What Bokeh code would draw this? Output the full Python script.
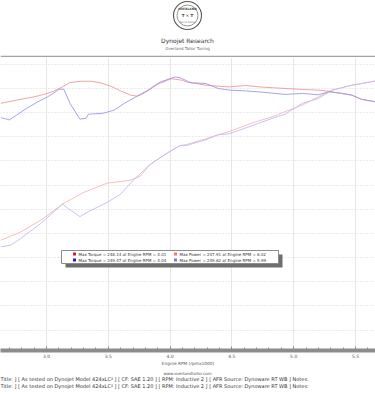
from bokeh.plotting import figure
from bokeh.models import (Label, BoxAnnotation, Span, SingleIntervalTicker, Range1d,
                          NumeralTickFormatter)
from bokeh.core.properties import value
from bokeh.layouts import column
from bokeh.embed import file_html
from bokeh.resources import INLINE

# ---------------- data ----------------
rpm_tq_run1 = [2.63, 2.76, 2.90, 2.98, 3.06, 3.14, 3.19, 3.28, 3.36, 3.44, 3.52, 3.60,
               3.68, 3.73, 3.76, 3.82, 3.90, 3.98, 4.01, 4.10, 4.13, 4.21, 4.29, 4.39,
               4.48, 4.61, 4.72, 4.93, 5.07, 5.20, 5.28, 5.39, 5.47, 5.55, 5.66]
tq_run1 = [227.7, 230.4, 233.1, 235.1, 237.8, 241.9, 244.9, 246.0, 246.0, 244.6, 241.9, 238.0,
           234.5, 233.7, 234.5, 238.0, 243.5, 246.8, 248.1, 246.8, 245.5, 244.1, 242.7, 241.9,
           241.3, 242.5, 241.3, 240.0, 239.2, 238.6, 237.8, 235.9, 234.5, 231.0, 229.0]

rpm_tq_run2 = [2.63, 2.70, 2.76, 2.84, 2.93, 3.01, 3.07, 3.10, 3.14, 3.19, 3.27, 3.32,
               3.34, 3.46, 3.55, 3.63, 3.71, 3.82, 3.92, 4.04, 4.08, 4.17, 4.21, 4.29,
               4.39, 4.48, 4.61, 4.72, 4.93, 5.07, 5.20, 5.28, 5.39, 5.47, 5.55, 5.66]
tq_run2 = [215.9, 214.0, 218.1, 223.6, 229.0, 233.1, 237.0, 239.4, 239.4, 227.7, 214.6, 215.4,
           218.7, 219.5, 222.2, 227.7, 232.3, 238.6, 245.4, 249.5, 249.0, 244.6, 244.6, 244.1,
           240.0, 238.6, 238.0, 237.2, 235.1, 235.9, 234.8, 237.2, 235.9, 234.5, 231.0, 229.0]

rpm_pw_run1 = [2.63, 2.79, 2.95, 3.13, 3.30, 3.49, 3.68, 3.76, 3.84, 3.98, 4.08, 4.13,
               4.29, 4.39, 4.48, 4.66, 4.83, 4.93, 5.07, 5.20, 5.31, 5.47, 5.55, 5.66]
pw_run1 = [114.3, 121.1, 130.7, 144.3, 153.9, 161.6, 164.0, 167.5, 177.2, 186.7, 192.7, 193.5,
           198.4, 201.7, 204.4, 211.3, 216.7, 220.8, 226.3, 233.1, 238.6, 242.7, 244.1, 246.2]

rpm_pw_run2 = [2.63, 2.71, 2.79, 2.95, 3.13, 3.18, 3.27, 3.34, 3.49, 3.60, 3.71, 3.84,
               3.98, 4.08, 4.13, 4.29, 4.39, 4.48, 4.66, 4.83, 4.93, 5.07, 5.20, 5.31,
               5.47, 5.55, 5.66]
pw_run2 = [108.9, 110.2, 115.7, 128.0, 144.3, 140.2, 133.9, 138.0, 145.7, 152.5, 164.8, 177.2,
           186.7, 192.7, 192.7, 197.6, 201.7, 202.5, 209.1, 215.4, 218.7, 227.7, 231.8, 238.6,
           242.7, 244.1, 246.2]

legend_rows = [
    ["Max Torque = 248.14 at Engine RPM = 4.01", "Max Power = 247.91 at Engine RPM = 6.02"],
    ["Max Torque = 249.47 at Engine RPM = 4.04", "Max Power = 249.62 at Engine RPM = 5.99"],
]
header_title = "Dynojet Research"
header_sub = "Overland Tailor Tuning"
logo_top = "OVERLAND"
logo_mid = "T \u2715 T"
logo_bot = "TAILOR TUNING"
x_label = "Engine RPM (rpmx1000)"
url_text = "www.overlandtailor.com"
run_notes = ("Title: ] [ As tested on Dynojet Model 424xLC\u00b2 ] [ CF: SAE 1.20 ] "
             "[ RPM: Inductive 2 ] [ AFR Source: Dynoware RT WB ] Notes:")

# ---------------- layout / styling ----------------
FONT = "DejaVu Sans"
W = 375
HEAD_H = 57            # header strip (logo, titles, top rule)
FRAME_TOP, FRAME_BOT = 57, 353
MAIN_H = 311           # 57 .. 368
FOOT_TOP, FOOT_H = 368, 25

col_tq1, col_tq2 = "#f09898", "#9a9aea"
col_pw1, col_pw2 = "#f5b8b8", "#bdbdf1"


def strip(h, y_top):
    f = figure(width=W, height=h, output_backend="svg", toolbar_location=None,
               x_range=Range1d(0, W), y_range=Range1d(y_top + h, y_top),
               x_axis_location=None, y_axis_location=None,
               min_border=0, min_border_left=0, min_border_right=0,
               min_border_top=0, min_border_bottom=0)
    f.outline_line_color = None
    f.xgrid.visible = False
    f.ygrid.visible = False
    f.background_fill_color = "white"
    f.border_fill_color = "white"
    return f


def put_text(f, x, y, txt, size, color, align="left", style="normal"):
    f.text(x=[x], y=[y], text=[txt], text_font=value(FONT), text_font_size=size,
           text_color=color, text_align=align, text_baseline="middle",
           text_font_style=style)


# ---- header ----
head = strip(HEAD_H, 0)
head.circle(x=[187], y=[15], radius=14, fill_color=None, line_color="#555555", line_width=1.1)
head.circle(x=[187], y=[15], radius=10.5, fill_color=None, line_color="#777777", line_width=0.8)
put_text(head, 187, 8.5, logo_top, "3px", "#444444", "center", "bold")
put_text(head, 187, 15, logo_mid, "4px", "#444444", "center", "bold")
put_text(head, 187, 22, logo_bot, "2px", "#666666", "center")
put_text(head, 187, 40, header_title, "6px", "#333333", "center")
put_text(head, 187, 48, header_sub, "4px", "#666666", "center")
head.add_layout(Span(location=56, dimension="width", line_color="#a3a3a3", line_width=1.3))

# ---- main chart ----
p = figure(width=W, height=MAIN_H, output_backend="svg", toolbar_location=None,
           x_range=Range1d(2.6278, 5.6618), y_range=Range1d(23.03, 265.66),
           y_axis_location=None,
           min_border_left=0, min_border_right=0, min_border_top=0,
           min_border_bottom=MAIN_H - (FRAME_BOT - FRAME_TOP))
p.outline_line_color = None
p.background_fill_color = "white"
p.border_fill_color = "white"

p.xgrid.ticker = SingleIntervalTicker(interval=0.5)
p.xgrid.grid_line_color = "#e6e6e6"
p.ygrid.ticker = SingleIntervalTicker(interval=20)
p.ygrid.grid_line_color = "#d6d6d6"
p.ygrid.grid_line_dash = "1 2"

xa = p.xaxis[0]
xa.ticker = SingleIntervalTicker(interval=0.5, num_minor_ticks=5)
xa.formatter = NumeralTickFormatter(format="0.0")
xa.axis_line_color = "#8c8c8c"
xa.axis_line_width = 4
xa.major_tick_in = 4
xa.major_tick_out = 0
xa.minor_tick_in = 3
xa.minor_tick_out = 0
xa.major_tick_line_color = "#8c8c8c"
xa.minor_tick_line_color = "#8c8c8c"
xa.major_label_text_font = FONT
xa.major_label_text_font_size = "4.5px"
xa.major_label_text_color = "#555555"
xa.major_label_standoff = 3
xa.axis_label = x_label
xa.axis_label_text_font = FONT
xa.axis_label_text_font_size = "4.3px"
xa.axis_label_text_font_style = "normal"
xa.axis_label_text_color = "#555555"
xa.axis_label_standoff = 0

p.line(rpm_pw_run1, pw_run1, line_color=col_pw1, line_width=0.9)
p.line(rpm_pw_run2, pw_run2, line_color=col_pw2, line_width=0.9)
p.line(rpm_tq_run1, tq_run1, line_color=col_tq1, line_width=0.9)
p.line(rpm_tq_run2, tq_run2, line_color=col_tq2, line_width=0.9)


# legend (screen units relative to the frame, y up)
def sx(rx):
    return rx


def sy(ry):
    return FRAME_BOT - ry


def box(l, r, t, b, fill, line=None, lw=1):
    p.add_layout(BoxAnnotation(left=sx(l), right=sx(r), top=sy(t), bottom=sy(b),
                               left_units="screen", right_units="screen",
                               top_units="screen", bottom_units="screen",
                               fill_color=fill, fill_alpha=1,
                               line_color=line, line_width=lw, line_alpha=1))


box(65, 282, 257, 270, "#6e6e6e")
box(61, 278, 253, 266, "white", "#8c8c8c", 1)
marker_cols = [["#d42020", "#ea7a7a"], ["#2020c8", "#7a7ae6"]]
for ri, row in enumerate(legend_rows):
    yy = 256.5 + 6 * ri
    for ci, txt in enumerate(row):
        mx = 74 if ci == 0 else 175
        box(mx - 1.5, mx + 1.5, yy - 1.5, yy + 1.5, marker_cols[ri][ci])
        p.add_layout(Label(x=sx(mx + 4), y=sy(yy), x_units="screen", y_units="screen",
                           text=txt, text_font=FONT, text_font_size="4px",
                           text_color="#333333", text_baseline="middle"))

# ---- footer ----
foot = strip(FOOT_H, FOOT_TOP)
put_text(foot, 187, 372.5, url_text, "4px", "#555555", "center")
put_text(foot, 0, 378.5, run_notes, "5px", "#333333", "left")
put_text(foot, 0, 385.5, run_notes, "5px", "#333333", "left")

layout = column(head, p, foot, spacing=0)
open("out.html", "w").write(file_html(layout, INLINE))
